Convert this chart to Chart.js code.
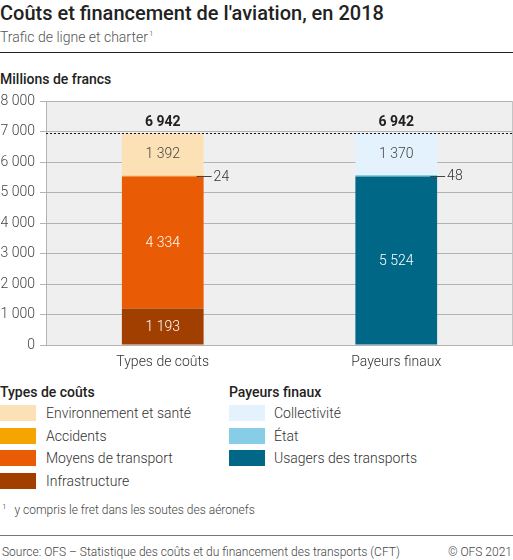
<!DOCTYPE html>
<html lang="fr">
<head>
<meta charset="utf-8">
<title>Coûts et financement de l'aviation, en 2018</title>
<script src="https://cdn.jsdelivr.net/npm/chart.js@4.4.1/dist/chart.umd.min.js"></script>
<style>
  html, body { margin: 0; padding: 0; background: #fff; }
  body { width: 513px; height: 560px; position: relative; overflow: hidden;
         font-family: Roboto, "Noto Sans", sans-serif; color: #333; }
  .abs { position: absolute; white-space: nowrap; }
  .title { left: 0; top: 1px; font-size: 20px; font-weight: 500; color: #222; }
  .subtitle { left: 0; top: 29px; font-size: 14px; font-weight: 300; color: #555; }
  .subtitle sup { font-size: 8px; vertical-align: 6px; margin-left: 1px; }
  .rule-top { left: 0; top: 52px; width: 513px; height: 1px; background: #222; }
  .unit { left: 0; top: 71px; font-size: 14px; font-weight: 500; color: #222; }
  #chart { position: absolute; left: 0; top: 86px; }
  .legend-col { position: absolute; top: 384px; white-space: nowrap; }
  .legend-col h3 { margin: 0 0 5px 0; font-size: 14px; font-weight: 500; color: #222; line-height: 16px; }
  .legend-row { height: 16px; margin-bottom: 6.6px; position: relative; font-size: 14px; font-weight: 300; color: #333; line-height: 16px; }
  .legend-row .sw { position: absolute; left: 0; top: 0; width: 36px; height: 16px; }
  .legend-row .tx { position: absolute; top: 0; white-space: nowrap; }
  .foot { left: 0; top: 502px; font-size: 12px; font-weight: 300; color: #444; }
  .foot sup { font-size: 8px; vertical-align: 5px; margin-right: 8px; margin-left: 2px; }
  .rule-bottom { left: 0; top: 535px; width: 513px; height: 1px; background: #777; }
  .source { left: 2px; top: 545px; font-size: 12px; font-weight: 300; color: #444; }
  .copy { right: 1px; top: 545px; font-size: 12px; font-weight: 300; color: #444; }
</style>
</head>
<body>
<div class="abs title">Coûts et financement de l'aviation, en 2018</div>
<div class="abs subtitle">Trafic de ligne et charter<sup>1</sup></div>
<div class="abs rule-top"></div>
<div class="abs unit">Millions de francs</div>
<canvas id="chart" width="513" height="287"></canvas>
<div class="legend-col" id="legend-costs" style="left:0"></div>
<div class="legend-col" id="legend-payers" style="left:229px"></div>
<div class="abs foot"><sup>1</sup>y compris le fret dans les soutes des aéronefs</div>
<div class="abs rule-bottom"></div>
<div class="abs source">Source: OFS – Statistique des coûts et du financement des transports (CFT)</div>
<div class="abs copy">© OFS 2021</div>

<script>
// données (millions de francs), de bas en haut de chaque barre
const categories = ['Types de coûts', 'Payeurs finaux'];
const costLabels = ['Infrastructure', 'Moyens de transport', 'Accidents', 'Environnement et santé'];
const costValues = [1193, 4334, 24, 1392];
const payerLabels = ['Usagers des transports', 'État', 'Collectivité'];
const payerValues = [5524, 48, 1370];
const totals = [6942, 6942];
const yTicks = [0, 1000, 2000, 3000, 4000, 5000, 6000, 7000, 8000];

// couleurs
const costColors = ['#a13f00', '#ea5b05', '#f6a500', '#fde1b6'];
const payerColors = ['#006886', '#88cde6', '#e4f2fd'];
const costText = ['#fff', '#fff', '#333', '#444'];
const payerText = ['#fff', '#333', '#444'];

function fmt(v) {
  return String(v).replace(/\B(?=(\d{3})+(?!\d))/g, ' ');
}

const datasets = [];
costLabels.forEach((label, i) => {
  datasets.push({
    label,
    data: [costValues[i], null],
    backgroundColor: costColors[i],
    textColor: costText[i],
    cat: 0,
  });
});
payerLabels.forEach((label, i) => {
  datasets.push({
    label,
    data: [null, payerValues[i]],
    backgroundColor: payerColors[i],
    textColor: payerText[i],
    cat: 1,
  });
});

function legendMarkup(labels, colors, textLeft) {
  return labels
    .map((l, i) => ({ l, c: colors[i] }))
    .reverse()
    .map((d) => `<div class="legend-row"><span class="sw" style="background:${d.c}"></span><span class="tx" style="left:${textLeft}px">${d.l}</span></div>`)
    .join('');
}
document.getElementById('legend-costs').innerHTML = '<h3>Types de coûts</h3>' + legendMarkup(costLabels, costColors, 46);
document.getElementById('legend-payers').innerHTML = '<h3>Payeurs finaux</h3>' + legendMarkup(payerLabels, payerColors, 45);

const FONT = 'Roboto, "Noto Sans", sans-serif';

const plotBackground = {
  id: 'plotBackground',
  beforeDraw(chart) {
    const { ctx, chartArea: a } = chart;
    ctx.save();
    ctx.fillStyle = '#efefef';
    ctx.fillRect(a.left, a.top, a.right - a.left, a.bottom - a.top);
    ctx.restore();
  },
  afterDraw(chart) {
    const { ctx, chartArea: a } = chart;
    ctx.save();
    ctx.strokeStyle = '#c4c4c4';
    ctx.lineWidth = 1;
    ctx.beginPath();
    ctx.moveTo(a.right - 0.5, a.top);
    ctx.lineTo(a.right - 0.5, a.bottom);
    ctx.stroke();
    ctx.restore();
  },
};

const barLabels = {
  id: 'barLabels',
  afterDatasetsDraw(chart) {
    const { ctx, chartArea: a } = chart;
    const y = chart.scales.y;
    ctx.save();

    // ligne pointillée du total
    ctx.strokeStyle = '#111';
    ctx.lineWidth = 1;
    ctx.setLineDash([2, 2]);
    const ty = Math.round(y.getPixelForValue(totals[0])) + 0.5;
    ctx.beginPath();
    ctx.moveTo(a.left, ty);
    ctx.lineTo(a.right, ty);
    ctx.stroke();
    ctx.setLineDash([]);

    ctx.textBaseline = 'middle';
    chart.data.datasets.forEach((ds, di) => {
      const el = chart.getDatasetMeta(di).data[ds.cat];
      const v = ds.data[ds.cat];
      if (!el || v == null) return;
      const h = Math.abs(el.base - el.y);
      const mid = (el.base + el.y) / 2;
      ctx.font = `300 14px ${FONT}`;
      if (h >= 16) {
        ctx.fillStyle = ds.textColor;
        ctx.textAlign = 'center';
        ctx.fillText(fmt(v), el.x, mid + 0.5);
      } else {
        const right = el.x + el.width / 2;
        ctx.strokeStyle = '#444';
        ctx.beginPath();
        ctx.moveTo(right - 7, Math.round(mid) + 0.5);
        ctx.lineTo(right + 8, Math.round(mid) + 0.5);
        ctx.stroke();
        ctx.fillStyle = '#333';
        ctx.textAlign = 'left';
        ctx.fillText(fmt(v), right + 10, mid + 1);
      }
    });

    // totaux
    ctx.font = `bold 14px ${FONT}`;
    ctx.fillStyle = '#222';
    ctx.textAlign = 'center';
    const meta0 = chart.getDatasetMeta(0).data[0];
    const meta1 = chart.getDatasetMeta(costLabels.length).data[1];
    [meta0, meta1].forEach((el, i) => {
      ctx.fillText(fmt(totals[i]), el.x, y.getPixelForValue(totals[i]) - 11);
    });
    ctx.restore();
  },
};

new Chart(document.getElementById('chart'), {
  type: 'bar',
  data: { labels: categories, datasets },
  options: {
    responsive: false,
    animation: false,
    layout: { padding: { top: 15, right: 0, left: 0, bottom: 0 } },
    datasets: { bar: { barPercentage: 0.35, categoryPercentage: 1, borderWidth: 0, skipNull: true } },
    plugins: { legend: { display: false }, tooltip: { enabled: false } },
    scales: {
      x: {
        stacked: true,
        grid: { display: false },
        border: { display: false },
        ticks: { color: '#333', font: { family: FONT, size: 14, weight: 300 }, padding: 1 },
        afterFit(s) { s.height = 28; },
      },
      y: {
        stacked: true,
        min: 0,
        max: 8000,
        afterBuildTicks(s) { s.ticks = yTicks.map((v) => ({ value: v })); },
        grid: { color: '#b3b3b3', drawTicks: true, tickLength: 6 },
        border: { color: '#b3b3b3' },
        ticks: {
          color: '#444',
          font: { family: FONT, size: 14, weight: 300 },
          padding: 5,
          callback: (v) => fmt(v),
        },
        afterFit(s) { s.width = 46; },
      },
    },
  },
  plugins: [plotBackground, barLabels],
});
</script>
</body>
</html>
